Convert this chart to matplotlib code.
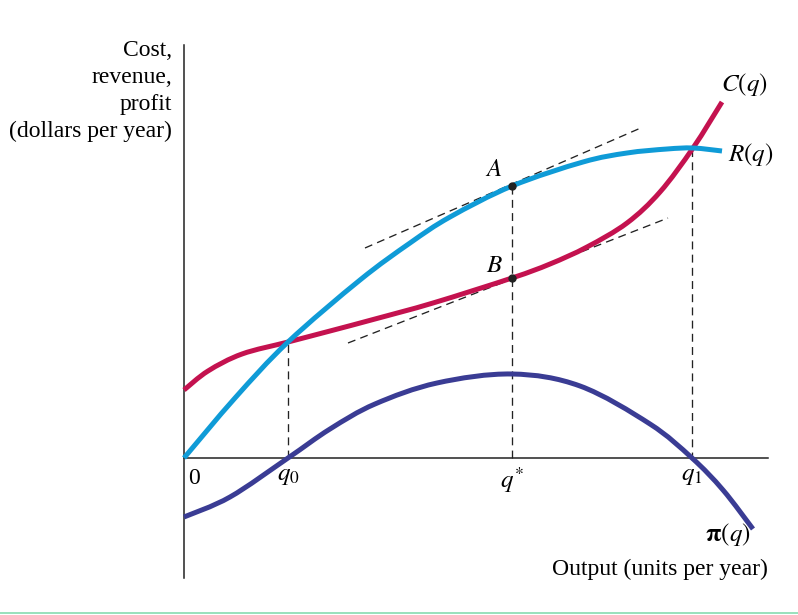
import matplotlib
matplotlib.use("Agg")
import matplotlib.pyplot as plt
from matplotlib.lines import Line2D
from matplotlib.path import Path
from matplotlib.patches import PathPatch
import numpy as np

plt.rcParams['font.family'] = ['Liberation Serif', 'DejaVu Serif']
plt.rcParams['mathtext.fontset'] = 'stix'

# ---- data (output q, dollars) ----
R_q = [0, 5.1, 10.4, 17.6, 22.6, 26.6, 32.8, 39.9, 44.3, 48.3, 50.9, 53.8]
R_val = [0, 6.0, 11.6, 17.8, 21.5, 24.1, 27.2, 29.6, 30.5, 30.9, 31.0, 30.7]

C_q = [0, 2.4, 5.8, 10.4, 14.6, 19.1, 24.9, 32.8, 36.6, 40.3, 44.3, 47.6, 50.9, 53.8]
C_val = [6.8, 8.7, 10.4, 11.6, 12.7, 13.9, 15.5, 18.0, 19.4, 21.1, 23.5, 26.6, 31.0, 35.6]

P_q = [0, 4.6, 10.4, 14.6, 19.1, 25.3, 32.8, 39.6, 46.6, 50.8, 53.9, 56.9]
P_val = [-5.9, -3.9, 0, 2.9, 5.4, 7.5, 8.4, 7.2, 3.4, 0, -3.2, -7.1]

q0, q_star, q1 = 10.4, 32.8, 50.8
A_pt = (32.8, 27.2)
B_pt = (32.8, 18.0)
tanA_q = [18.1, 45.9]
tanA_val = [21.0, 33.1]
tanB_q = [16.4, 48.4]
tanB_val = [11.5, 24.0]

x_ticks = [q0, q_star, q1]
x_tick_labels = [r'$q_0$', r'$q^{*}$', r'$q_1$']


def smooth_path(xs, ys):
    """Catmull-Rom curve through the given points, as cubic Bezier segments."""
    p = np.column_stack([xs, ys]).astype(float)
    ext = np.vstack([p[0], p, p[-1]])
    verts = [p[0]]
    codes = [Path.MOVETO]
    for i in range(len(p) - 1):
        p0, p1, p2, p3 = ext[i], ext[i + 1], ext[i + 2], ext[i + 3]
        c1 = p1 + (p2 - p0) / 6.0
        c2 = p2 - (p3 - p1) / 6.0
        verts += [c1, c2, p2]
        codes += [Path.CURVE4] * 3
    return Path(verts, codes)


# ---- figure ----
fig = plt.figure(figsize=(7.98, 6.15), dpi=100)
ax = fig.add_axes([0, 0, 1, 1])
ax.set_xlim(-18.4, 61.4)
ax.set_ylim(-15.7, 45.8)

for s in ['top', 'right']:
    ax.spines[s].set_visible(False)
ax.spines['left'].set_position(('data', 0))
ax.spines['bottom'].set_position(('data', 0))
ax.spines['left'].set_bounds(-12.0, 41.3)
ax.spines['bottom'].set_bounds(0, 58.4)
for s in ['left', 'bottom']:
    ax.spines[s].set_color('#222222')
    ax.spines[s].set_linewidth(1.1)
ax.set_yticks([])
ax.set_xticks(x_ticks)
ax.set_xticklabels(x_tick_labels, fontsize=18)
ax.tick_params(axis='x', length=0, pad=5)

blue = '#0f9bd7'
red = '#c4124f'
navy = '#3a3c94'
lw = 3.6

dash = dict(color='#222222', lw=0.95, dashes=(6, 4))
# vertical guides
ax.plot([q0, q0], [0, R_val[2]], **dash)
ax.plot([q_star, q_star], [0, A_pt[1]], **dash)
ax.plot([q1, q1], [-0.2, 31.0], **dash)
# tangent lines
ax.plot(tanA_q, tanA_val, **dash)
ax.plot(tanB_q, tanB_val, **dash)

for xs, ys, col in [(C_q, C_val, red), (R_q, R_val, blue), (P_q, P_val, navy)]:
    ax.add_patch(PathPatch(smooth_path(xs, ys), facecolor='none', edgecolor=col,
                           lw=lw, capstyle='butt', joinstyle='round', zorder=3))

ax.plot([A_pt[0], B_pt[0]], [A_pt[1], B_pt[1]], 'o', color='#222222', ms=5, zorder=5)

# labels
fs = 17
ax.text(-1.2, 40.2, 'Cost,', ha='right', va='baseline', fontsize=fs)
ax.text(-1.2, 37.5, 'revenue,', ha='right', va='baseline', fontsize=fs)
ax.text(-1.2, 34.8, 'profit', ha='right', va='baseline', fontsize=fs)
ax.text(-1.2, 32.1, '(dollars per year)', ha='right', va='baseline', fontsize=fs)
ax.text(58.4, -11.7, 'Output (units per year)', ha='right', va='baseline', fontsize=fs)

ax.text(1.0, -2.0, '0', ha='center', va='center', fontsize=17)
ax.text(31.0, 28.8, r'$A$', ha='center', va='center', fontsize=18)
ax.text(31.0, 19.2, r'$B$', ha='center', va='center', fontsize=18)
ax.text(53.7, 37.3, r'$C(q)$', ha='left', va='center', fontsize=18)
ax.text(54.4, 30.3, r'$R(q)$', ha='left', va='center', fontsize=18)
ax.text(52.1, -7.7, r'$\mathbf{\pi}(q)$', ha='left', va='center', fontsize=18)

fig.add_artist(Line2D([0, 1], [1.8 / 615, 1.8 / 615], color='#86dcb0', lw=1.2))

fig.savefig('out.png', dpi=100, facecolor='white')
